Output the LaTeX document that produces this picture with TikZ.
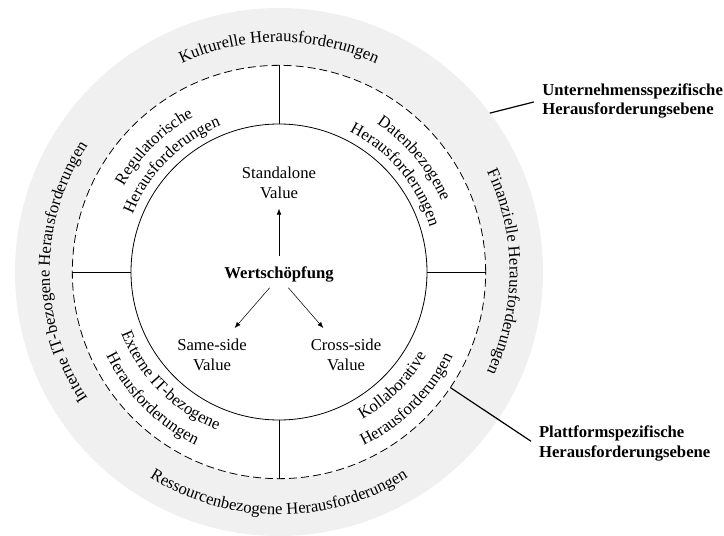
\documentclass[tikz,border=0pt]{standalone}
\usepackage{fontspec}
\setmainfont{Liberation Serif}
\usetikzlibrary{arrows.meta,decorations.text}

\definecolor{ringgrey}{RGB}{240,240,240}
\newcommand\lblsize{\fontsize{12.5}{14.5}\selectfont}

\begin{document}
\begin{tikzpicture}[
    ring/.style={line width=0.6pt},
    val/.style={align=center, font=\lblsize},
    core/.style={font=\lblsize\bfseries},
    callout/.style={align=left, anchor=west, font=\lblsize\bfseries},
    arr/.style={-{Latex[length=4.5pt,width=3.5pt]}, line width=0.4pt},
    lead/.style={line width=0.9pt, shorten >=3pt},
    curved/.style={decorate, decoration={text along path, text align=center, text={|\lblsize|#1}}}
  ]
    \useasboundingbox (-209.25pt,-197.25pt) rectangle (333.75pt,204pt);

    % three rings
    \fill[ringgrey] (0,0) circle[radius=198pt];
    \draw[ring, fill=white, dash pattern=on 6pt off 3pt] (0,0) circle[radius=155pt];
    \draw[ring, fill=white] (0,0) circle[radius=111pt];
    \foreach \a in {0,90,180,270}
      \draw[ring] (\a:111pt) -- (\a:155pt);

    % outer ring (company level)
    \path[curved={Kulturelle Herausforderungen}] (160:172.5pt) arc[start angle=160, end angle=20, radius=172.5pt];
    \path[curved={Finanzielle Herausforderungen}] (70:173pt) arc[start angle=70, end angle=-70, radius=173pt];
    \path[curved={Interne IT-bezogene Herausforderungen}] (250:172pt) arc[start angle=250, end angle=110, radius=172pt];
    \path[curved={Ressourcenbezogene Herausforderungen}] (200:182pt) arc[start angle=200, end angle=340, radius=182pt];

    % inner ring (platform level)
    \path[curved={Regulatorische}] (175:133pt) arc[start angle=175, end angle=95, radius=133pt];
    \path[curved={Herausforderungen}] (175:118pt) arc[start angle=175, end angle=95, radius=118pt];
    \path[curved={Datenbezogene}] (80:133pt) arc[start angle=80, end angle=0, radius=133pt];
    \path[curved={Herausforderungen}] (80:118pt) arc[start angle=80, end angle=0, radius=118pt];
    \path[curved={Externe IT-bezogene}] (185:127pt) arc[start angle=185, end angle=265, radius=127pt];
    \path[curved={Herausforderungen}] (185:144pt) arc[start angle=185, end angle=265, radius=144pt];
    \path[curved={Kollaborative}] (275:127pt) arc[start angle=275, end angle=355, radius=127pt];
    \path[curved={Herausforderungen}] (275:145pt) arc[start angle=275, end angle=355, radius=145pt];

    % centre
    \node[core] (wert)  at (0,-1.5pt)         {Wertschöpfung};
    \node[val]  (stand) at (0,66.75pt)        {Standalone\\Value};
    \node[val]  (same)  at (-50.25pt,-62.25pt) {Same-side\\Value};
    \node[val]  (cross) at (50.25pt,-62.25pt)  {Cross-side\\Value};

    \draw[arr, shorten <=4pt, shorten >=4pt] (wert.north) -- (stand.south);
    \draw[arr] ([xshift=-7pt,yshift=-1pt]wert.south) -- ([xshift=17pt,yshift=5pt]same.north);
    \draw[arr] ([xshift=7pt,yshift=-1pt]wert.south) -- ([xshift=-17pt,yshift=5pt]cross.north);

    % levels
    \node[callout] (unt) at (194pt,128.25pt)  {Unternehmensspezifische\\Herausforderungsebene};
    \node[callout] (plt) at (191.5pt,-128.6pt) {Plattformspezifische\\Herausforderungsebene};
    \coordinate (greyedge) at (37:198pt);
    \coordinate (dashedge) at (-34:155pt);
    \draw[lead] (greyedge) -- (unt.west);
    \draw[lead] (dashedge) -- (plt.west);
\end{tikzpicture}
\end{document}
